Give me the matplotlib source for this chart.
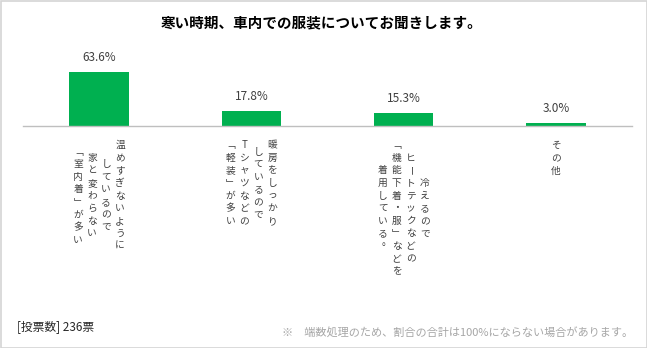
import matplotlib
matplotlib.use("Agg")
import matplotlib.pyplot as plt
from matplotlib.patches import Rectangle

plt.rcParams["font.family"] = ["Noto Sans CJK JP", "DejaVu Sans"]

W, H = 647, 348

title = "寒い時期、車内での服装についてお聞きします。"
values = [63.6, 17.8, 15.3, 3.0]
value_labels = ["63.6%", "17.8%", "15.3%", "3.0%"]
# category labels, one entry per vertical column (read right to left)
categories = [
    ["温めすぎないように", "しているので", "家と変わらない", "「室内着」が多い"],
    ["暖房をしっかり", "しているので", "Tシャツなどの", "「軽装」が多い"],
    ["冷えるので", "ヒートテックなどの", "「機能下着・服」などを", "着用している。"],
    ["その他"],
]
votes_note = "[投票数] 236票"
footnote = "※　端数処理のため、割合の合計は100%にならない場合があります。"

GREEN = "#00B050"
TEXT = "#404040"

fig = plt.figure(figsize=(W / 100, H / 100), dpi=100)
fig.patches.append(Rectangle((0.5 / W, 0.5 / H), 1 - 1 / W, 1 - 1 / H, transform=fig.transFigure,
                             fill=False, edgecolor="#d4d4d4", linewidth=1.2))

# axes: baseline at y=126px, x from 23 to 632px
ax = fig.add_axes([23 / W, (H - 126) / H, 609 / W, 59.5 / H])
x = range(len(values))
ax.bar(x, values, width=0.39, color=GREEN)
ax.set_xlim(-0.5, len(values) - 0.5)
ax.set_ylim(0, 70)
for s in ["top", "right", "left"]:
    ax.spines[s].set_visible(False)
ax.spines["bottom"].set_color("#bfbfbf")
ax.spines["bottom"].set_linewidth(1)
ax.set_xticks([])
ax.set_yticks([])

for i, (v, lab) in enumerate(zip(values, value_labels)):
    ax.annotate(lab, (i, v), xytext=(0, 8), textcoords="offset pixels",
                ha="center", va="bottom", fontsize=8.5, color=TEXT)

# vertical (tategaki) category labels
vert_map = {"「": "﹁", "」": "﹂"}
col_pitch = 14
char_pitch = 12.6
top = 13
trans = ax.get_xaxis_transform()
for i, cols in enumerate(categories):
    n = len(cols)
    longest = max(len(c) for c in cols)
    for k, col in enumerate(cols):
        dx = ((n - 1) / 2 - k) * col_pitch
        start = (longest - len(col)) / 2
        for j, ch in enumerate(col):
            dy = -(top + char_pitch * (start + j + 0.5))
            ox, oy = 0, 0
            if ch in "。、":
                ox, oy = 4, 4
            ax.annotate(vert_map.get(ch, ch), (i, 0), xycoords=trans,
                        xytext=(dx + ox, dy + oy), textcoords="offset pixels",
                        ha="center", va="center", fontsize=7, color=TEXT,
                        rotation=-90 if ch == "ー" else 0,
                        annotation_clip=False)

fig.text(322 / W, 1 - 22 / H, title, ha="center", va="center",
         fontsize=10.5, fontweight="bold", color="#000000")
fig.text(17 / W, 1 - 327 / H, votes_note, ha="left", va="center",
         fontsize=8.5, color="#262626")
fig.text(633 / W, 1 - 332 / H, footnote, ha="right", va="center",
         fontsize=8, color="#a6a6a6")

fig.savefig("out.png", dpi=100)
